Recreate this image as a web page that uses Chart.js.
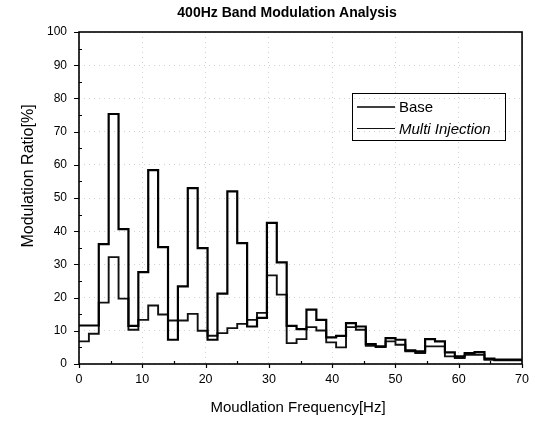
<!DOCTYPE html>
<html>
<head>
<meta charset="utf-8">
<script src="https://cdn.jsdelivr.net/npm/chart.js@4/dist/chart.umd.min.js"></script>
<style>
  html, body { margin: 0; padding: 0; background: #fff; }
  #wrap { width: 537px; height: 421px; position: relative; }
</style>
</head>
<body>
<div id="wrap"><canvas id="modChart"></canvas></div>
<script>
// bin width of the modulation spectrum (400 Hz / 256)
const binHz = 400 / 256;

const baseValues = [11.6, 11.6, 36.1, 75.3, 40.6, 11.5, 27.7, 58.4, 35.2, 7.3,
    23.4, 53.0, 34.9, 7.3, 21.2, 52.0, 36.4, 11.3, 13.9, 42.5,
    30.6, 11.5, 10.5, 16.4, 13.3, 8.0, 8.5, 12.3, 11.3, 6.0,
    5.3, 7.8, 7.3, 4.1, 3.8, 7.5, 6.8, 3.5, 2.3, 3.3,
    3.6, 1.6, 1.3, 1.3, 1.3];
const multiValues = [6.8, 9.1, 18.5, 32.2, 19.7, 10.3, 13.3, 17.6, 14.9, 13.1,
    13.1, 15.1, 10.0, 8.5, 9.3, 10.8, 12.1, 13.3, 15.4, 26.7,
    20.9, 6.3, 7.5, 11.1, 10.1, 6.5, 5.0, 11.1, 10.3, 5.5,
    5.1, 6.8, 5.8, 3.8, 3.3, 5.3, 5.3, 2.3, 1.8, 2.8,
    2.8, 1.3, 1.1, 1.1, 1.1];

const seriesNames = ['Base', 'Multi Injection'];
const xTicks = [0, 10, 20, 30, 40, 50, 60, 70];
const yTicks = [0, 10, 20, 30, 40, 50, 60, 70, 80, 90, 100];

const FONT = "'Liberation Sans', Arial, sans-serif";

// step points: one per bin start, plus the closing edge of the last bin
function toSteps(values) {
    const pts = values.map((v, i) => ({ x: i * binHz, y: v }));
    pts.push({ x: values.length * binHz, y: values[values.length - 1] });
    return pts;
}

// frame, tick marks, titles and the boxed legend
const decorPlugin = {
    id: 'decor',
    afterDraw(chart) {
        const { ctx, chartArea: a, scales: { x, y } } = chart;
        ctx.save();
        ctx.strokeStyle = '#000';
        ctx.fillStyle = '#000';

        // ticks
        ctx.lineWidth = 1.2;
        ctx.beginPath();
        for (let v = 0; v <= 100; v += 5) {
            const py = Math.round(y.getPixelForValue(v)) + 0.5;
            if (v % 10 === 0) { ctx.moveTo(a.left - 5, py); ctx.lineTo(a.left, py); }
            else { ctx.moveTo(a.left, py); ctx.lineTo(a.left + 3, py); }
        }
        for (let v = 0; v <= 70; v += 5) {
            const px = Math.round(x.getPixelForValue(v)) + 0.5;
            if (v % 10 === 0) { ctx.moveTo(px, a.bottom); ctx.lineTo(px, a.bottom + 4); }
            else { ctx.moveTo(px, a.bottom); ctx.lineTo(px, a.bottom - 3); }
        }
        ctx.stroke();

        // frame
        ctx.lineWidth = 1.6;
        ctx.strokeRect(a.left, a.top, a.right - a.left, a.bottom - a.top);

        // titles
        ctx.textAlign = 'center';
        ctx.textBaseline = 'middle';
        ctx.font = 'bold 14px ' + FONT;
        ctx.fillText('400Hz Band Modulation Analysis', 287, 13);
        ctx.font = '15px ' + FONT;
        ctx.fillText('Moudlation Frequency[Hz]', 298, 408);
        ctx.save();
        ctx.translate(29, 176);
        ctx.rotate(-Math.PI / 2);
        ctx.font = '16px ' + FONT;
        ctx.fillText('Modulation Ratio[%]', 0, 0);
        ctx.restore();

        // legend
        const lx = 352, ly = 93, lw = 153, lh = 47;
        ctx.lineWidth = 1;
        ctx.strokeRect(lx + 0.5, ly + 0.5, lw, lh);
        chart.data.datasets.forEach((ds, i) => {
            const rowY = ly + 14 + i * 21.5;
            ctx.lineWidth = i === 0 ? 1.6 : 1.1;
            ctx.strokeStyle = ds.borderColor;
            ctx.beginPath();
            ctx.moveTo(lx + 5, rowY);
            ctx.lineTo(lx + 43, rowY);
            ctx.stroke();
            ctx.textAlign = 'left';
            ctx.font = (i === 1 ? 'italic ' : '') + '15px ' + FONT;
            ctx.fillText(ds.label, lx + 47, rowY + 1);
        });
        ctx.restore();
    }
};

const ctx = document.getElementById('modChart').getContext('2d');
const modChart = new Chart(ctx, {
    type: 'line',
    data: {
        datasets: [{
            label: seriesNames[0],
            data: toSteps(baseValues),
            borderColor: '#000',
            borderWidth: 2.2,
            stepped: 'before',
            pointRadius: 0,
            fill: false
        }, {
            label: seriesNames[1],
            data: toSteps(multiValues),
            borderColor: '#111',
            borderWidth: 1.9,
            stepped: 'before',
            pointRadius: 0,
            fill: false
        }]
    },
    options: {
        responsive: true,
        maintainAspectRatio: false,
        animation: false,
        layout: { padding: { top: 32, right: 8, left: 0, bottom: 0 } },
        scales: {
            x: {
                type: 'linear',
                min: 0,
                max: 70,
                afterBuildTicks: scale => { scale.ticks = xTicks.map(v => ({ value: v })); },
                afterFit: scale => { scale.height = 57; },
                ticks: {
                    color: '#000',
                    padding: 8,
                    maxRotation: 0,
                    font: { family: FONT, size: 12.5 }
                },
                grid: { color: 'rgba(0,0,0,0.18)', drawTicks: false },
                border: { display: false, dash: [1, 4] }
            },
            y: {
                min: 0,
                max: 100,
                afterBuildTicks: scale => { scale.ticks = yTicks.map(v => ({ value: v })); },
                afterFit: scale => { scale.width = 79; },
                ticks: {
                    color: '#000',
                    padding: 12,
                    font: { family: FONT, size: 12 }
                },
                grid: { color: 'rgba(0,0,0,0.18)', drawTicks: false },
                border: { display: false, dash: [1, 4] }
            }
        },
        plugins: {
            legend: { display: false },
            tooltip: { enabled: false }
        }
    },
    plugins: [decorPlugin]
});
</script>
</body>
</html>
